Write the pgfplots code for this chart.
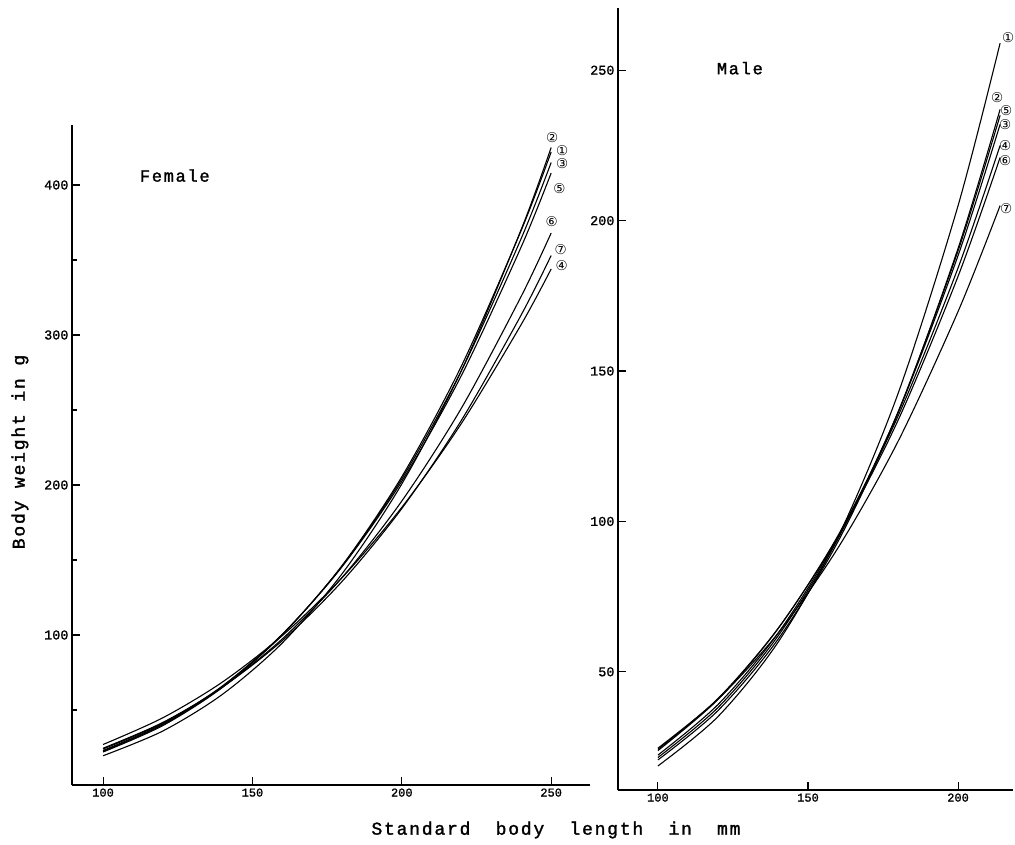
\documentclass[border=0pt]{standalone}
\usepackage{fontspec}
\setmainfont[FakeBold=1.2]{Liberation Mono}
\newfontfamily\dv{DejaVu Sans}
\newfontfamily\tw[LetterSpace=10, FakeBold=1.6]{Liberation Mono}
\usepackage{pgfplots}
\pgfplotsset{compat=1.18}

\pgfplotsset{
  panel/.style={
    scale only axis,
    axis x line=bottom, axis y line=left,
    axis line style={-, line width=1.2pt},
    tick align=inside,
    major tick length=8pt, minor tick length=5pt,
    tick style={line width=1.1pt, black},
    xticklabel style={font=\fontsize{12}{12}\selectfont},
    yticklabel style={font=\fontsize{13.5}{13.5}\selectfont},
    clip=false,
  },
  crv/.style={black, line width=1.1pt, smooth, no markers},
}
\newcommand{\cn}[2]{\node[font=\dv\fontsize{13.5}{13.5}\selectfont, inner sep=0pt] at (axis cs:#1) {#2};}

\begin{document}
\begin{tikzpicture}
\path[use as bounding box] (0,0) rectangle (1015pt,844pt);

%-- Female
\begin{axis}[panel,
    at={(72pt,59pt)}, anchor=south west,
    width=518pt, height=660pt,
    xmin=89.6, xmax=263, ymin=0, ymax=440,
    xtick={100,150,200,250}, xticklabels={100,150,200,250},
    ytick={100,200,300,400}, yticklabels={100,200,300,400},
    minor ytick={50,150,250,350},
  ]
  % 2
  \addplot[crv] coordinates {(100,19.5)(120,36.0)(140,60.5)(160,94.7)(180,140.8)(200,200.7)(220,276.5)(240,370.5)(250,425)};
  % 1
  \addplot[crv] coordinates {(100,22)(120,39.6)(140,65.1)(160,100.1)(180,146.3)(200,205.5)(220,279.5)(240,369.9)(250,422)};
  % 3
  \addplot[crv] coordinates {(100,22.5)(120,40.2)(140,65.6)(160,100.3)(180,145.9)(200,204.1)(220,276.4)(240,364.5)(250,415)};
  % 5
  \addplot[crv] coordinates {(100,23)(120,40.8)(140,66.1)(160,100.5)(180,145.5)(200,202.5)(220,273.2)(240,358.9)(250,408)};
  % 6
  \addplot[crv] coordinates {(100,24)(120,41.3)(140,65.4)(160,97.4)(180,138.3)(200,189.3)(220,251.4)(240,325.9)(250,368)};
  % 7
  \addplot[crv] coordinates {(100,24.5)(120,41.7)(140,65.3)(160,96.3)(180,135.7)(200,184.3)(220,243.3)(240,313.5)(250,353)};
  % 4
  \addplot[crv] coordinates {(100,27)(120,44.8)(140,68.7)(160,99.6)(180,138.2)(200,185.1)(220,241.2)(240,307.1)(250,344)};
  \cn{250.3,431.3}{②}
  \cn{253.7,423}{①}
  \cn{253.7,414}{③}
  \cn{252.8,397.7}{⑤}
  \cn{250.2,375.7}{⑥}
  \cn{253.2,357}{⑦}
  \cn{253.5,346}{④}
  \node[font=\tw\fontsize{17}{17}\selectfont] at (axis cs:124,406.3) {Female};
\end{axis}

%-- Male
\begin{axis}[panel,
    at={(618pt,54pt)}, anchor=south west,
    width=395pt, height=782pt,
    xmin=86.7, xmax=218.3, ymin=10.7, ymax=270.7,
    xtick={100,150,200}, xticklabels={100,150,200},
    ytick={50,100,150,200,250}, yticklabels={50,100,150,200,250},
  ]
  % 1
  \addplot[crv] coordinates {(100,18.7)(120,35.1)(140,59.8)(160,94.8)(180,142.5)(200,205.0)(214,259)};
  % 2
  \addplot[crv] coordinates {(100,20.7)(120,37.1)(140,60.8)(160,93.3)(180,136.1)(200,190.8)(214,237)};
  % 5
  \addplot[crv] coordinates {(100,21.5)(120,38.1)(140,61.9)(160,94.2)(180,136.4)(200,190.0)(214,235)};
  % 3
  \addplot[crv] coordinates {(100,22.3)(120,39.1)(140,62.8)(160,94.8)(180,136.2)(200,188.4)(214,232)};
  % 4
  \addplot[crv] coordinates {(100,23.8)(120,40.8)(140,64.3)(160,95.3)(180,135.0)(200,184.3)(214,225)};
  % 6
  \addplot[crv] coordinates {(100,24.2)(120,41.1)(140,64.4)(160,94.9)(180,133.6)(200,181.5)(214,221)};
  % 7
  \addplot[crv] coordinates {(100,24.6)(120,40.9)(140,62.8)(160,91.2)(180,126.6)(200,169.8)(214,205)};
  \cn{216.7,260.7}{①}
  \cn{213,241}{②}
  \cn{216,236.7}{⑤}
  \cn{215.7,232}{③}
  \cn{215.7,225}{④}
  \cn{215.7,220}{⑥}
  \cn{216,204}{⑦}
  \node[font=\tw\fontsize{17}{17}\selectfont] at (axis cs:127.3,250.7) {Male};
\end{axis}

\node[font=\tw\fontsize{18}{18}\selectfont, rotate=90] at (20pt,392pt) {Body weight in g};
\node[font=\tw\fontsize{18}{18}\selectfont] at (556pt,14pt) {Standard\hspace{1.4em}body\hspace{1.4em}length\hspace{1.4em}in\hspace{1.4em}mm};
\end{tikzpicture}
\end{document}
